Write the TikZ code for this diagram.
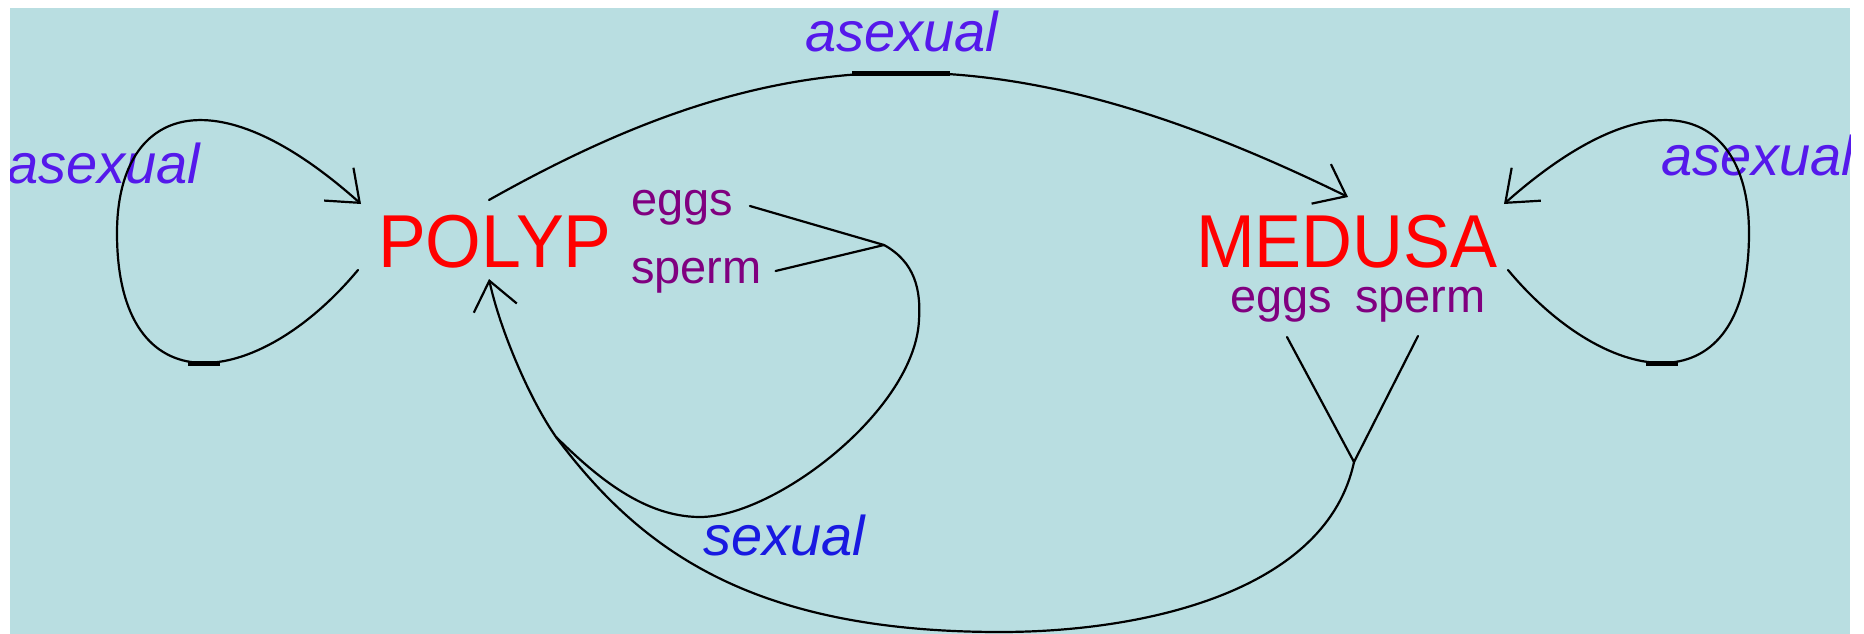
\documentclass[tikz,border=0pt]{standalone}
\usepackage{fontspec}
\usepackage{graphicx}
\setmainfont{Liberation Sans}
\usetikzlibrary{arrows.meta}
\definecolor{bgc}{RGB}{185,222,225}
\definecolor{stagered}{RGB}{255,0,0}
\definecolor{gamcol}{RGB}{128,0,128}
\definecolor{asexcol}{RGB}{85,25,235}
\definecolor{sexcol}{RGB}{25,25,225}
\begin{document}
\begin{tikzpicture}[x=1pt,y=-1pt,
  lbl/.style={inner sep=0pt, outer sep=0pt, anchor=base west},
  stage/.style={lbl, text=stagered, font=\fontsize{75}{80}\selectfont},
  gamete/.style={lbl, text=gamcol, font=\fontsize{47}{50}\selectfont},
  asex/.style={lbl, text=asexcol, font=\itshape\fontsize{56}{60}\selectfont},
  sexlbl/.style={lbl, text=sexcol, font=\itshape\fontsize{56}{60}\selectfont},
  conn/.style={line width=2.2pt, black, line join=round, line cap=round},
  arr/.style={conn, -{Straight Barb[length=28pt,width=44pt]}},
  blob/.style={line width=5pt, black}
]
\useasboundingbox (0,0) rectangle (1864,634);
\fill[white] (0,0) rectangle (1864,634);
\begin{scope}
\clip (10,8) rectangle (1850,634);
\fill[bgc] (10,8) rectangle (1850,634);

% texts
\node[stage] (polyp) at (378,267) {\scalebox{0.955}[1]{POLYP}};
\node[stage] (medusa) at (1196,267) {\scalebox{0.94}[1]{MEDUSA}};
\node[gamete] (peggs) at (631,215) {eggs};
\node[gamete] (psperm) at (631,283) {sperm};
\node[gamete] (meggs) at (1230,312) {eggs};
\node[gamete] (msperm) at (1355,312) {sperm};
\node[asex] (asexL) at (7,183) {asexual};
\node[asex] (asexT) at (805,52) {asexual};
\node[asex] (asexR) at (1661,175) {asexual};
\node[sexlbl] (sexL) at (703,555) {sexual};

% connector end points
\coordinate (topS) at ([shift={(111,-67)}]polyp.base west);
\coordinate (topE) at ([shift={(152,-70)}]medusa.base west);
\coordinate (lS) at ([shift={(-20,3)}]polyp.base west);
\coordinate (lE) at ([shift={(-17,-63)}]polyp.base west);
\coordinate (rS) at ([shift={(312,3)}]medusa.base west);
\coordinate (rE) at ([shift={(308,-63)}]medusa.base west);
\coordinate (pArr) at ([shift={(111,12)}]polyp.base west);
\coordinate (peggsS) at ([shift={(17,-9)}]peggs.base east);
\coordinate (pspermS) at ([shift={(14,-12)}]psperm.base east);
\coordinate (meggsS) at ([shift={(57,25)}]meggs.base west);
\coordinate (mspermS) at ([shift={(63,24)}]msperm.base west);
\coordinate (pj) at (884,245);
\coordinate (mj) at (1354,462);
\coordinate (merge) at (556,437);

% asexual: polyp -> medusa
\draw[arr] (topS) .. controls (773,40) and (991,22) .. (topE);
\draw[blob] (852,74) -- (950,74);

% asexual loop on polyp
\draw[arr] (lS) .. controls (258,390) and (117,410) .. (117,233)
               .. controls (117,110) and (211,70) .. (lE);
\draw[blob] (188,363) -- (220,363);

% asexual loop on medusa
\draw[arr] (rS) .. controls (1608,390) and (1749,410) .. (1749,233)
               .. controls (1749,110) and (1655,70) .. (rE);
\draw[blob] (1646,363) -- (1678,363);

% polyp gametes
\draw[conn] (peggsS) -- (pj);
\draw[conn] (pspermS) -- (pj);
\draw[conn] (pj) .. controls (915,262) and (921,290) .. (919,320)
                 .. controls (915,410) and (775,517) .. (700,517)
                 .. controls (640,517) and (590,470) .. (merge);

% medusa gametes
\draw[conn] (meggsS) -- (mj);
\draw[conn] (mspermS) -- (mj);
\draw[arr] (mj) .. controls (1327,589) and (1150,632) .. (1000,632)
                .. controls (750,632) and (640,549) .. (merge)
                .. controls (530,400) and (500,330) .. (pArr);
\end{scope}
\end{tikzpicture}
\end{document}
